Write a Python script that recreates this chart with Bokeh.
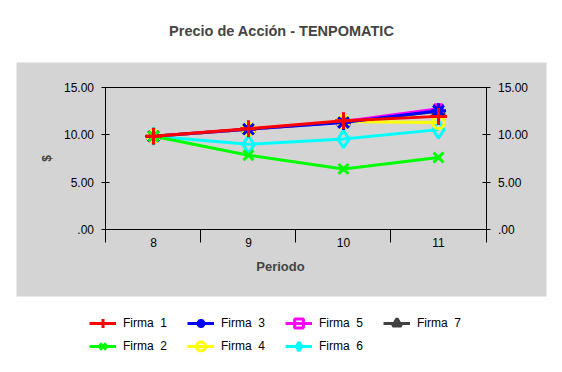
from bokeh.plotting import figure
from bokeh.models import (Range1d, LinearAxis, FixedTicker, CustomJSTickFormatter,
                          BoxAnnotation, Label, Legend, LegendItem)
from bokeh.embed import file_html
from bokeh.resources import INLINE

# ---- data ----
periods = [8, 9, 10, 11]
firma_1 = [9.85, 10.65, 11.50, 11.95]
firma_2 = [9.85, 7.85, 6.40, 7.60]
firma_3 = [9.85, 10.60, 11.30, 12.55]
firma_4 = [9.85, 10.60, 11.40, 11.30]
firma_5 = [9.85, 10.60, 11.40, 12.75]
firma_6 = [9.85, 9.00, 9.55, 10.55]
firma_7 = [9.85, 10.60, 11.35, 12.50]
labels = ["Firma  1", "Firma  2", "Firma  3", "Firma  4", "Firma  5", "Firma  6", "Firma  7"]
y_ticks = [0, 5, 10, 15]
title_text = "Precio de Acción - TENPOMATIC"

FONT = "Liberation Sans"
PANEL = "#D4D4D4"

p = figure(width=560, height=370, x_range=Range1d(6.3895, 12.2842),
           y_range=Range1d(-14.893, 24.19), output_backend="svg",
           toolbar_location=None, x_axis_type=None, y_axis_type=None, min_border=0)
p.outline_line_color = None
p.background_fill_color = "white"
p.border_fill_color = "white"

# grey panel
p.add_layout(BoxAnnotation(left=6.558, right=12.137, bottom=-7.077, top=17.64,
                           fill_color=PANEL, fill_alpha=1.0, line_color=None, level="underlay"))

fmt = CustomJSTickFormatter(code="return tick == 0 ? '.00' : tick.toFixed(2);")

def style(ax):
    ax.axis_line_color = "black"
    ax.axis_line_width = 1
    ax.major_tick_line_color = "black"
    ax.minor_tick_line_color = None
    ax.major_label_text_font = FONT
    ax.major_label_text_font_size = "12px"
    ax.major_label_text_color = "black"

yl = LinearAxis(fixed_location=7.5, ticker=FixedTicker(ticks=y_ticks), formatter=fmt,
                bounds=(0, 15), major_tick_in=4, major_tick_out=4, major_label_standoff=8,
                axis_label="$", axis_label_text_font=FONT, axis_label_text_font_size="12px",
                axis_label_text_font_style="bold", axis_label_standoff=6)
style(yl)
p.add_layout(yl, "left")

yr = LinearAxis(fixed_location=11.5, ticker=FixedTicker(ticks=y_ticks), formatter=fmt,
                bounds=(0, 15), major_tick_in=4, major_tick_out=4, major_label_standoff=8)
style(yr)
p.add_layout(yr, "right")

bounds_x = [7.5, 8.5, 9.5, 10.5, 11.5]
xb = LinearAxis(fixed_location=0, ticker=FixedTicker(ticks=bounds_x), bounds=(7.5, 11.5),
                major_tick_in=0, major_tick_out=13)
style(xb)
xb.major_label_text_color = None
p.add_layout(xb, "below")

xl = LinearAxis(fixed_location=0, ticker=FixedTicker(ticks=periods), major_tick_in=0,
                major_tick_out=0, major_label_standoff=8, axis_label="Periodo",
                axis_label_text_font=FONT, axis_label_text_font_size="13px",
                axis_label_text_font_style="bold", axis_label_standoff=9)
style(xl)
xl.axis_line_color = None
xl.major_tick_line_color = None
p.add_layout(xl, "below")

xt = LinearAxis(fixed_location=15, ticker=FixedTicker(ticks=[]), bounds=(7.5, 11.5),
                major_tick_in=0, major_tick_out=0)
style(xt)
p.add_layout(xt, "above")

p.add_layout(Label(x=9.35, y=20.92, text=title_text, text_font=FONT, text_font_size="14.5px",
                   text_font_style="bold", text_align="center", text_baseline="middle"))

series = [
    (labels[0], firma_1, "#FF0000", "cross", 17),
    (labels[1], firma_2, "#00FF00", "x", 14),
    (labels[2], firma_3, "#0000FF", "asterisk", 15),
    (labels[3], firma_4, "#FFFF00", "circle", 12),
    (labels[4], firma_5, "#FF00FF", "square", 8),
    (labels[5], firma_6, "#00FFFF", "diamond", 17),
    (labels[6], firma_7, "#404040", "triangle", 12),
]

rends = {}
for name, vals, col, mk, sz in reversed(series):
    lr = p.line(periods, vals, line_color=col, line_width=3)
    sr = p.scatter(periods, vals, marker=mk, size=sz, line_color=col, line_width=3,
                   fill_color=None)
    rends[name] = [lr, sr]

items = [LegendItem(label=name, renderers=rends[name]) for name, *_ in series]
legend = Legend(items=items, location=(89, 13), orientation="vertical", nrows=2,
                padding=0, margin=0, border_line_color=None, background_fill_alpha=0,
                glyph_width=27, glyph_height=22, label_height=22, label_width=63,
                label_standoff=7, spacing=1, label_text_font=FONT,
                label_text_font_size="12px", label_text_color="black")
p.add_layout(legend)

open("out.html", "w").write(file_html(p, INLINE))
